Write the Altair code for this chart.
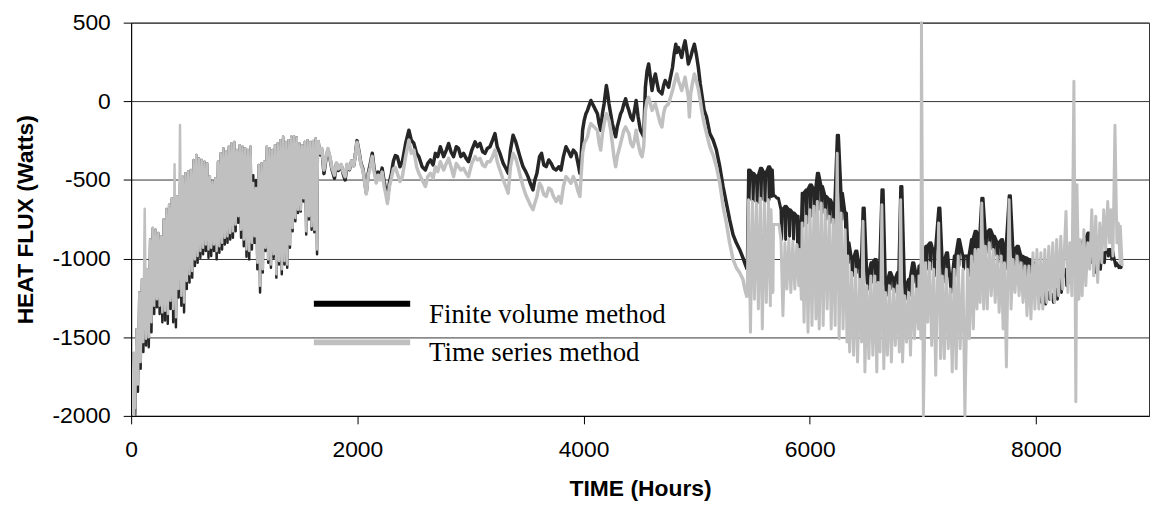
import altair as alt
import pandas as pd

FV_NAME = "Finite volume method"
TS_NAME = "Time series method"
FV_COLOR = "#262626"
TS_COLOR = "#c0c0c0"
FV_SWATCH = "#000000"

X_TICKS = [0, 2000, 4000, 6000, 8000]
Y_TICKS = [-2000, -1500, -1000, -500, 0, 500]

START_HOUR_TS = 28
START_HOUR_FV = 36
START_VALUE = -2000

# ---- early period (daily columns: high at 24*day, low at 24*day+12) ----
EARLY_DAY = list(range(1, 69))
EARLY_TS_HIGH = [
    -1600, -1450, -1215, -1131, -683, -1068, -879, -805, -816, -837,
    -858, -752, -685, -658, -616, -400, -605, -150, -479, -458,
    -447, -437, -373, -342, -363, -373, -384, -395, -479, -510,
    -489, -384, -331, -300, -321, -289, -268, -258, -310, -279,
    -289, -300, -310, -289, -520, -552, -405, -395, -384, -289,
    -300, -310, -279, -268, -247, -226, -258, -247, -226, -222,
    -230, -268, -279, -258, -247, -258, -252, -237]
EARLY_TS_LOW = [
    -1950, -1800, -1658, -1531, -1510, -1500, -1405, -1300, -1258, -1300,
    -1342, -1331, -1352, -1268, -1321, -1373, -1194, -1236, -1279, -1142,
    -1100, -1079, -1005, -984, -952, -931, -910, -942, -931, -910,
    -952, -921, -900, -868, -858, -837, -826, -784, -731, -816,
    -879, -942, -952, -900, -858, -1026, -1173, -1068, -931, -1005,
    -1037, -973, -1100, -1016, -1068, -1016, -1037, -910, -805, -742,
    -689, -689, -616, -826, -731, -794, -816, -942]
EARLY_FV_HIGH = [
    -1600, -1450, -1215, -1131, -1100, -1068, -879, -805, -816, -837,
    -858, -752, -685, -658, -616, -700, -605, -520, -479, -458,
    -447, -437, -373, -342, -363, -373, -384, -395, -479, -510,
    -489, -384, -331, -300, -321, -289, -268, -258, -310, -279,
    -289, -300, -310, -289, -470, -500, -405, -395, -384, -289,
    -300, -310, -279, -268, -247, -226, -258, -247, -226, -222,
    -230, -268, -279, -258, -247, -258, -252, -237]
EARLY_FV_LOW = [
    -1990, -1847, -1700, -1594, -1552, -1563, -1468, -1352, -1310, -1352,
    -1405, -1394, -1415, -1321, -1405, -1437, -1247, -1300, -1342, -1194,
    -1152, -1121, -1047, -1026, -994, -973, -952, -994, -984, -952,
    -1005, -963, -942, -910, -900, -879, -868, -826, -773, -868,
    -921, -988, -1005, -942, -900, -1068, -1215, -1089, -952, -1026,
    -1058, -994, -1121, -1037, -1100, -1037, -1058, -931, -826, -763,
    -710, -700, -637, -847, -752, -816, -833, -973]

# ---- middle period (single traces) ----
MID_HOURS = [
    1652, 1670, 1687, 1705, 1722, 1740, 1757, 1775, 1798, 1816,
    1833, 1857, 1874, 1892, 1909, 1930, 1950, 1968, 1985, 1997,
    2015, 2032, 2050, 2067, 2079, 2097, 2114, 2132, 2149, 2167,
    2184, 2202, 2219, 2237, 2254, 2266, 2284, 2301, 2319, 2336,
    2354, 2377, 2398, 2427, 2456, 2477, 2500, 2524, 2544, 2573,
    2602, 2623, 2646, 2670, 2690, 2711, 2734, 2763, 2787, 2807,
    2828, 2851, 2875, 2895, 2915, 2939, 2962, 2983, 3012, 3041,
    3062, 3085, 3108, 3129, 3149, 3173, 3196, 3217, 3237, 3261,
    3290, 3313, 3334, 3354, 3377, 3401, 3421, 3442, 3465, 3489,
    3509, 3529, 3553, 3570, 3588, 3611, 3629, 3649, 3670, 3693,
    3714, 3734, 3758, 3781, 3801, 3822, 3845, 3869, 3889, 3910,
    3933, 3951, 3968, 3980, 3992, 4006, 4021, 4035, 4050, 4065,
    4079, 4094, 4108, 4123, 4138, 4152, 4167, 4182, 4202, 4214,
    4225, 4240, 4255, 4269, 4284, 4298, 4313, 4328, 4342, 4357,
    4372, 4386, 4401, 4418, 4436, 4451, 4465, 4483, 4503, 4518,
    4532, 4547, 4562, 4576, 4591, 4606, 4620, 4635, 4649, 4664,
    4679, 4693, 4708, 4722, 4737, 4752, 4769, 4787, 4801, 4816,
    4825, 4839, 4854, 4868, 4883, 4898, 4912, 4927, 4936, 4947,
    4962, 4980, 4997, 5015, 5032, 5050, 5067, 5088, 5117, 5146,
    5175, 5205, 5234, 5263, 5292, 5322, 5351, 5380, 5409, 5430,
    5447]
MID_TS = [
    -247, -330, -300, -437, -360, -300, -350, -420, -470, -390,
    -430, -400, -450, -480, -400, -430, -380, -410, -330, -260,
    -330, -400, -440, -530, -590, -470, -420, -350, -450, -520,
    -470, -500, -450, -540, -600, -650, -540, -490, -430, -420,
    -458, -510, -479, -352, -247, -331, -310, -416, -458, -500,
    -542, -479, -458, -489, -416, -447, -384, -437, -395, -363,
    -416, -479, -395, -416, -437, -426, -458, -479, -395, -352,
    -373, -363, -405, -416, -384, -384, -352, -310, -384, -437,
    -500, -542, -584, -416, -331, -363, -416, -479, -542, -594,
    -626, -658, -689, -647, -605, -521, -542, -594, -605, -552,
    -563, -605, -637, -605, -647, -542, -479, -500, -521, -479,
    -521, -573, -605, -458, -331, -268, -247, -226, -174, -142,
    -153, -163, -174, -184, -268, -310, -205, -142, -79, -100,
    -121, -184, -268, -352, -416, -352, -310, -268, -226, -184,
    -163, -184, -205, -268, -289, -247, -184, -268, -331, -352,
    -289, -58, 5, 26, -16, -58, -37, -16, -58, -100,
    -142, -163, -79, -37, -26, -16, 26, 68, 111, 153,
    174, 132, 100, 68, 111, 153, 90, 26, -100, 47,
    111, 174, 132, 79, 5, -79, -142, -205, -289, -342,
    -416, -521, -668, -773, -900, -1005, -1058, -1089, -1131, -1205,
    -1247]
MID_FV = [
    -250, -340, -310, -460, -370, -310, -360, -430, -490, -395,
    -440, -405, -460, -500, -405, -435, -380, -410, -325, -250,
    -320, -395, -430, -520, -580, -455, -400, -330, -430, -500,
    -450, -475, -425, -510, -575, -625, -515, -460, -380, -345,
    -352, -416, -384, -268, -184, -247, -268, -331, -352, -416,
    -437, -395, -373, -405, -331, -352, -289, -352, -310, -268,
    -321, -352, -289, -300, -352, -331, -363, -384, -310, -258,
    -289, -268, -321, -331, -300, -289, -247, -205, -289, -331,
    -395, -426, -458, -310, -216, -258, -310, -363, -416, -447,
    -479, -521, -563, -500, -458, -352, -331, -405, -416, -373,
    -395, -426, -437, -416, -437, -352, -289, -321, -352, -310,
    -331, -395, -458, -331, -184, -121, -79, -58, -26, 5,
    -16, -37, -58, -79, -142, -184, -79, -16, 100, 47,
    -16, -79, -142, -184, -226, -163, -121, -79, -58, -16,
    16, -26, -58, -100, -121, -58, 5, -100, -184, -205,
    -226, 90, 195, 237, 153, 68, 132, 174, 121, 68,
    58, 47, 100, 132, 111, 90, 153, 216, 300, 363,
    310, 342, 310, 279, 342, 384, 321, 237, 258, 279,
    321, 363, 300, 216, 111, 26, -58, -100, -205, -247,
    -310, -416, -542, -647, -752, -847, -900, -942, -994, -1037,
    -1068]

# ---- late period (column peaks and troughs) ----
LATE_HOURS = [
    5459, 5494, 5529, 5564, 5599, 5635, 5658, 5680, 5711, 5746,
    5781, 5816, 5851, 5886, 5909, 5933, 5968, 6003, 6038, 6067,
    6102, 6137, 6173, 6208, 6243, 6278, 6313, 6336, 6371, 6406,
    6442, 6471, 6506, 6541, 6576, 6605, 6638, 6670, 6705, 6740,
    6775, 6804, 6839, 6874, 6909, 6944, 6966, 6988, 7026, 7061,
    7097, 7140, 7173, 7208, 7243, 7278, 7313, 7355, 7395, 7430,
    7462, 7490, 7521, 7553, 7588, 7623, 7658, 7693, 7722, 7763,
    7798, 7834, 7869, 7904, 7939, 7974, 8009, 8044, 8079, 8114,
    8149, 8184, 8220, 8266, 8301, 8336, 8363, 8392, 8424, 8459,
    8494, 8529, 8565, 8600, 8635, 8664, 8699, 8728, 8746]
LATE_FV_HIGH = [
    -437, -458, -479, -426, -458, -416, -437, -601, -616, -689,
    -668, -689, -710, -731, -900, -584, -563, -531, -563, -458,
    -542, -605, -626, -668, -216, -584, -710, -900, -1005, -952,
    -1068, -679, -1110, -1026, -1005, -1068, -563, -1152, -1089, -1131,
    -1089, -542, -1173, -1131, -1026, -1110, -1047, -1026, -921, -900,
    -963, -679, -1026, -963, -1152, -984, -879, -984, -984, -879,
    -826, -858, -616, -837, -816, -858, -900, -879, -942, -601,
    -942, -921, -984, -994, -1005, -1026, -1089, -1173, -1236, -1215,
    -1236, -1194, -1131, -1068, -1026, -984, -900, -900, -879, -837,
    -942, -1026, -1005, -963, -942, -942, -1026, -1047, -1047]
LATE_FV_LOW = [
    -626, -637, -647, -626, -637, -626, -605, -601, -616, -879,
    -879, -858, -879, -900, -942, -794, -773, -731, -731, -689,
    -710, -752, -773, -794, -773, -752, -858, -1026, -1110, -1089,
    -1152, -1152, -1194, -1152, -1152, -1173, -1173, -1236, -1194, -1215,
    -1194, -1194, -1258, -1236, -1152, -1215, -1152, -1100, -1068, -1068,
    -1110, -1110, -1152, -1110, -1215, -1110, -1047, -1068, -1110, -1026,
    -984, -984, -942, -963, -942, -984, -1026, -1026, -1068, -984,
    -1068, -1047, -1089, -1110, -1110, -1110, -1215, -1279, -1289, -1258,
    -1279, -1258, -1215, -1173, -1152, -1100, -984, -984, -942, -963,
    -1026, -1089, -1068, -1026, -984, -1005, -1047, -1058, -1058]
LATE_TS_HIGH = [
    -626, -637, -647, -616, -647, -626, -689, -784, -784, -879,
    -900, -879, -889, -910, -942, -773, -731, -689, -668, -637,
    -647, -689, -731, -752, -331, -710, -816, -984, -1089, -1068,
    -1131, -763, -1173, -1110, -1110, -1152, -658, -1215, -1173, -1194,
    -1173, -626, -1236, -1215, -1110, -1194, -1110, 500, -1026, -1026,
    -1068, -773, -1110, -1068, -1194, -1068, -984, -1068, -1068, -984,
    -942, -942, -647, -921, -900, -942, -984, -984, -1026, -626,
    -1005, -984, -1026, -1047, -1047, -963, -942, -963, -942, -921,
    -900, -879, -858, -700, -900, 127, -531, -879, -816, -900,
    -689, -731, -773, -689, -637, -689, -153, -773, -794]
LATE_TS_LOW = [
    -1468, -1258, -1321, -1447, -1279, -1300, -1215, -784, -784, -1363,
    -1194, -1215, -1194, -1173, -1258, -1405, -1468, -1426, -1384, -1447,
    -1426, -1321, -1447, -1426, -1510, -1447, -1531, -1594, -1615, -1657,
    -1531, -1721, -1636, -1615, -1721, -1594, -1700, -1615, -1657, -1552,
    -1594, -1657, -1531, -1615, -1510, -1447, -1510, -2000, -1405, -1552,
    -1742, -1636, -1636, -1573, -1721, -1700, -1573, -2000, -1510, -1447,
    -1321, -1279, -1321, -1321, -1236, -1279, -1342, -1447, -1689, -1321,
    -1215, -1236, -1279, -1363, -1384, -1321, -1321, -1321, -1279, -1258,
    -1279, -1236, -1194, -1215, -1236, -1910, -1258, -1236, -1173, -1068,
    -1110, -1152, -1026, -942, -900, -984, -900, -1026, -1047]

# densely overplotted core of the time-series trace after hour 5450
CORE_SEGMENT = ["a", "a", "a"] + ["b"] * 34
CORE_HOURS = [
    5459, 5560, 5660,
    5746, 5820, 5900, 5933, 6000, 6100, 6200, 6300, 6336, 6400,
    6500, 6600, 6700, 6800, 6900, 7000, 7100, 7200, 7300, 7400,
    7500, 7600, 7700, 7800, 7900, 8000, 8100, 8200, 8300, 8400,
    8500, 8600, 8700, 8760]
CORE_TOP = [
    -650, -650, -700,
    -900, -900, -930, -780, -700, -670, -760, -830, -1000, -1080,
    -1170, -1140, -1180, -1200, -1130, -1060, -1080, -1090, -1010, -1000,
    -950, -920, -1000, -1020, -1060, -960, -940, -890, -900, -880,
    -760, -730, -720, -810]
CORE_BOTTOM = [
    -800, -820, -780,
    -1100, -1130, -1150, -1250, -1300, -1300, -1330, -1350, -1440, -1490,
    -1520, -1510, -1520, -1470, -1410, -1390, -1470, -1490, -1440, -1370,
    -1230, -1200, -1290, -1180, -1260, -1240, -1220, -1180, -1180, -1150,
    -1030, -920, -900, -1000]

EARLY_STEP = 24
EARLY_HALF = 12
LATE_DOWN = 6
LATE_UP = 12
LATE_LOW_TS = 17


def build_segments(start_hour, early_hi, early_lo, mid_vals, late_hi, late_lo,
                   v_shape):
    eh, ev = [start_hour], [START_VALUE]
    for d, hi, lo in zip(EARLY_DAY, early_hi, early_lo):
        eh += [EARLY_STEP * d, EARLY_STEP * d + EARLY_HALF]
        ev += [hi, lo]
    eh.append(MID_HOURS[0])
    ev.append(mid_vals[0])
    mh, mv = list(MID_HOURS), list(mid_vals)
    lh, lv = [MID_HOURS[-1]], [mid_vals[-1]]
    for h, hi, lo in zip(LATE_HOURS, late_hi, late_lo):
        if v_shape:
            lh += [h, h + LATE_DOWN, h + LATE_UP]
            lv += [hi, lo, hi]
        else:
            lh += [h, h + LATE_LOW_TS]
            lv += [hi, lo]
    out = []
    for hh, vv in ((eh, ev), (mh, mv), (lh, lv)):
        out.append(pd.DataFrame({"hours": hh, "flux": vv, "i": range(len(hh))}))
    return out


fv_parts = build_segments(START_HOUR_FV, EARLY_FV_HIGH, EARLY_FV_LOW, MID_FV,
                          LATE_FV_HIGH, LATE_FV_LOW, True)
ts_parts = build_segments(START_HOUR_TS, EARLY_TS_HIGH, EARLY_TS_LOW, MID_TS,
                          LATE_TS_HIGH, LATE_TS_LOW, False)
core_df = pd.DataFrame({"seg": CORE_SEGMENT, "hours": CORE_HOURS,
                        "top": CORE_TOP, "bottom": CORE_BOTTOM})

x_scale = alt.Scale(domain=[0, 9000], nice=False, zero=False)
y_scale = alt.Scale(domain=[-2000, 500], nice=False, zero=False)

x_enc = alt.X(
    "hours:Q", scale=x_scale,
    axis=alt.Axis(values=X_TICKS, title="TIME (Hours)", grid=False,
                  labelFlush=False, labelBaseline="alphabetic",
                  labelPadding=33, titleBaseline="alphabetic", titleY=80,
                  labelExpr="toString(datum.value)"),
)
y_enc = alt.Y(
    "flux:Q", scale=y_scale,
    axis=alt.Axis(values=Y_TICKS, title="HEAT FLUX (Watts)", grid=True,
                  labelPadding=13, titleBaseline="alphabetic", titleX=-99,
                  titleY=198, labelExpr="toString(datum.value)"),
)

PART_WIDTHS = [2.5, 3.5, 3.0]


def series_layers(parts, color):
    return [
        alt.Chart(df).mark_line(color=color, strokeWidth=w, strokeJoin="round")
        .encode(x=x_enc, y=y_enc, order="i:Q")
        for df, w in zip(parts, PART_WIDTHS)
    ]


core_layer = alt.Chart(core_df).mark_area(color=TS_COLOR, opacity=1).encode(
    x=alt.X("hours:Q", scale=x_scale),
    y=alt.Y("top:Q", scale=y_scale),
    y2="bottom:Q",
    detail="seg:N",
    order="hours:Q",
)


def legend_item(name, color, y_line, y_text):
    src = pd.DataFrame({"name": [name]})
    swatch = alt.Chart(src).mark_rule(color=color, strokeWidth=6).encode(
        x=alt.value(184), x2=alt.value(281), y=alt.value(y_line)
    )
    label = alt.Chart(src).mark_text(
        align="left", baseline="alphabetic", font="Liberation Serif",
        fontSize=27, color="#000000"
    ).encode(x=alt.value(300), y=alt.value(y_text), text="name:N")
    return swatch + label


chart = alt.layer(
    *series_layers(fv_parts, FV_COLOR),
    core_layer,
    *series_layers(ts_parts, TS_COLOR),
    legend_item(FV_NAME, FV_SWATCH, 283, 302),
    legend_item(TS_NAME, TS_COLOR, 322, 341),
).properties(
    width=1025,
    height=396,
    autosize=alt.AutoSizeParams(type="none"),
    padding={"left": 124, "top": 13, "right": 1, "bottom": 87},
).configure_axis(
    labelFont="Liberation Sans",
    titleFont="Liberation Sans",
    labelFontSize=23,
    titleFontSize=23,
    titleFontWeight="bold",
    labelColor="#000000",
    titleColor="#000000",
    domainColor="#000000",
    tickColor="#000000",
    tickSize=8,
    gridColor="#333333",
    gridWidth=1,
    domainWidth=1,
    tickWidth=1,
).configure_view(stroke="#333333", strokeWidth=1)

chart.save("out.html", embed_options={"renderer": "svg", "actions": False})
